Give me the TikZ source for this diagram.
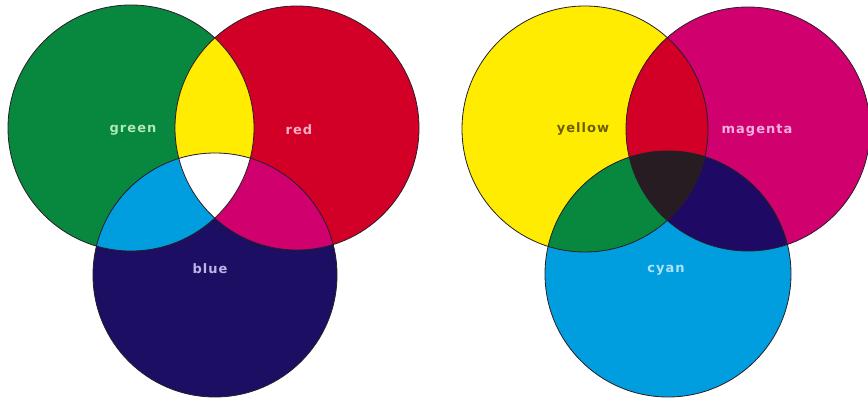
\documentclass[tikz,border=0pt]{standalone}
\usepackage{fontspec}
\newfontfamily\lblfont[LetterSpace=8]{DejaVu Sans}
\definecolor{cGreen}{RGB}{8,135,62}
\definecolor{cRed}{RGB}{210,0,38}
\definecolor{cBlue}{RGB}{28,14,98}
\definecolor{cYellow}{RGB}{255,236,0}
\definecolor{cCyan}{RGB}{0,158,222}
\definecolor{cMagenta}{RGB}{208,0,110}
\definecolor{cBlack}{RGB}{38,28,34}
\definecolor{cDarkBlue}{RGB}{30,10,100}
\definecolor{lGreen}{RGB}{175,232,185}
\definecolor{lRed}{RGB}{245,175,195}
\definecolor{lBlue}{RGB}{190,180,232}
\definecolor{lYellow}{RGB}{105,95,0}
\definecolor{lMagenta}{RGB}{245,175,222}
\definecolor{lCyan}{RGB}{175,225,248}
\definecolor{rim}{RGB}{40,30,40}
\tikzset{
  rimline/.style={draw=rim, line width=0.8pt},
  lbl/.style={font=\lblfont\bfseries\fontsize{13}{15}\selectfont, inner sep=0pt}
}
\begin{document}
\begin{tikzpicture}[x=1pt,y=-1pt]
\useasboundingbox (0,0) rectangle (868,401);
\fill[white] (0,0) rectangle (868,401);
% ---------- left: additive ----------
\def\G{(131,128) circle (123)}
\def\R{(297,128) circle (122)}
\def\B{(215,275) circle (122)}
\fill[cGreen] \G;
\fill[cRed] \R;
\fill[cBlue] \B;
\begin{scope}\clip \G; \fill[cYellow] \R; \end{scope}
\begin{scope}\clip \G; \fill[cCyan] \B; \end{scope}
\begin{scope}\clip \R; \fill[cMagenta] \B; \end{scope}
\begin{scope}\clip \G; \clip \R; \fill[white] \B; \end{scope}
\draw[rimline] \G; \draw[rimline] \R; \draw[rimline] \B;
\node[lbl, text=lGreen] (green) at (133,130) {green};
\node[lbl, text=lRed] (red) at (299,130) {red};
\node[lbl, text=lBlue] (blue) at (210,269) {blue};
% ---------- right: subtractive ----------
\def\Y{(585,129) circle (123)}
\def\M{(748,129) circle (122)}
\def\C{(668,274) circle (123)}
\fill[cYellow] \Y;
\fill[cMagenta] \M;
\fill[cCyan] \C;
\begin{scope}\clip \Y; \fill[cRed] \M; \end{scope}
\begin{scope}\clip \Y; \fill[cGreen] \C; \end{scope}
\begin{scope}\clip \M; \fill[cDarkBlue] \C; \end{scope}
\begin{scope}\clip \Y; \clip \M; \fill[cBlack] \C; \end{scope}
\draw[rimline] \Y; \draw[rimline] \M; \draw[rimline] \C;
\node[lbl, text=lYellow] (yellow) at (583,129) {yellow};
\node[lbl, text=lMagenta] (magenta) at (757,130) {magenta};
\node[lbl, text=lCyan] (cyan) at (666,270) {cyan};
\end{tikzpicture}
\end{document}
